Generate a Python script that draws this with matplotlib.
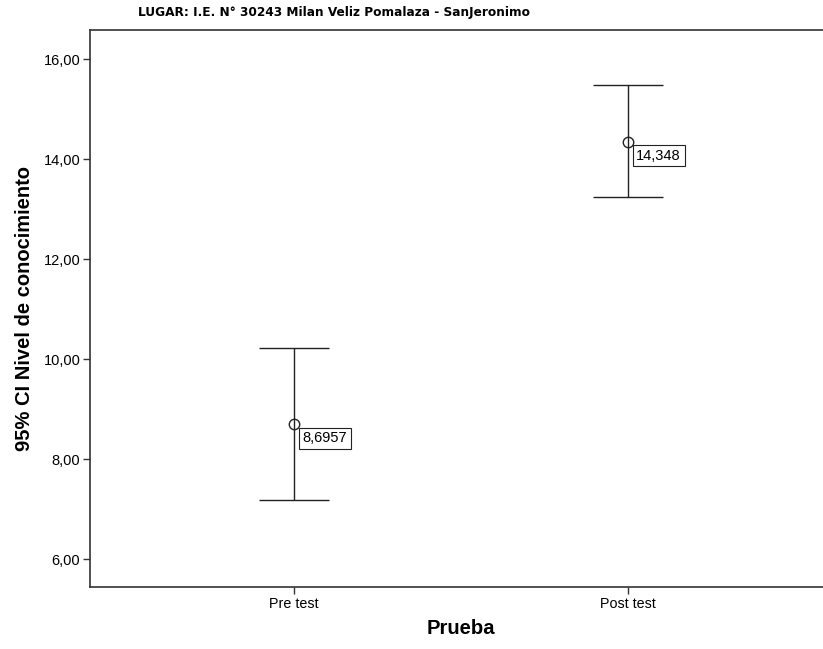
import matplotlib
matplotlib.use("Agg")
import matplotlib.pyplot as plt
from matplotlib import font_manager
from matplotlib.font_manager import FontProperties

categories = ["Pre test", "Post test"]
means = [8.6957, 14.348]
ci_low = [7.18, 13.24]
ci_high = [10.214, 15.486]
mean_labels = ["8,6957", "14,348"]
yticks = [6, 8, 10, 12, 14, 16]
ytick_labels = ["6,00", "8,00", "10,00", "12,00", "14,00", "16,00"]

# look for a condensed bold font
cond = None
for f in font_manager.fontManager.ttflist:
    n = (f.fname + f.name).lower()
    if ("narrow" in n or "condensed" in n) and f.weight in ("bold", 700):
        cond = f.fname
        break
title_fp = FontProperties(fname=cond, size=9.7) if cond else FontProperties(family='Liberation Sans', weight='bold', size=9.8)

fig = plt.figure(figsize=(8.23, 6.49), dpi=100)
ax = fig.add_axes([90/823, 1-587/649, 742/823, (587-30)/649])

xs = list(range(len(categories)))
lerr = [m - l for m, l in zip(means, ci_low)]
uerr = [h - m for m, h in zip(means, ci_high)]
ax.errorbar(xs, means, yerr=[lerr, uerr], fmt='o', mfc='none', mec='#222222',
            ms=7.5, mew=1.0, ecolor='#222222', elinewidth=1.0, capsize=25, capthick=1.0)

for x, m, lab in zip(xs, means, mean_labels):
    ax.annotate(lab, (x, m), xytext=(6, -5), textcoords='offset points',
                ha='left', va='top', fontsize=10.5, family='Liberation Sans',
                bbox=dict(boxstyle='square,pad=0.25', fc='white', ec='#222222', lw=0.8))

ax.set_xlim(-(294-90)/334, 1+(832-628)/334)
ax.set_ylim(6-(587.3-559.3)/50, 16+(59.3-30)/50)
ax.set_xticks(xs)
ax.set_xticklabels(categories, family='Liberation Sans', fontsize=10.3)
ax.set_yticks(yticks)
ax.set_yticklabels(ytick_labels, family='Liberation Sans', fontsize=10.5)
ax.tick_params(axis='both', direction='out', length=5, width=1, color='#333333', pad=2)
for s in ['top', 'bottom', 'left', 'right']:
    ax.spines[s].set_color('#333333')
    ax.spines[s].set_linewidth(1.2)

fig.text(334/823, 1-12.5/649, "LUGAR: I.E. N° 30243 Milan Veliz Pomalaza - SanJeronimo",
         fontproperties=title_fp, ha='center', va='center')
ax.set_xlabel("Prueba", family='Liberation Sans', fontweight='bold', fontsize=14.6, labelpad=6)
ax.set_ylabel("95% CI Nivel de conocimiento", family='Liberation Sans', fontweight='bold',
              fontsize=14.5, labelpad=7)

fig.savefig("out.png", dpi=100, facecolor='white')
